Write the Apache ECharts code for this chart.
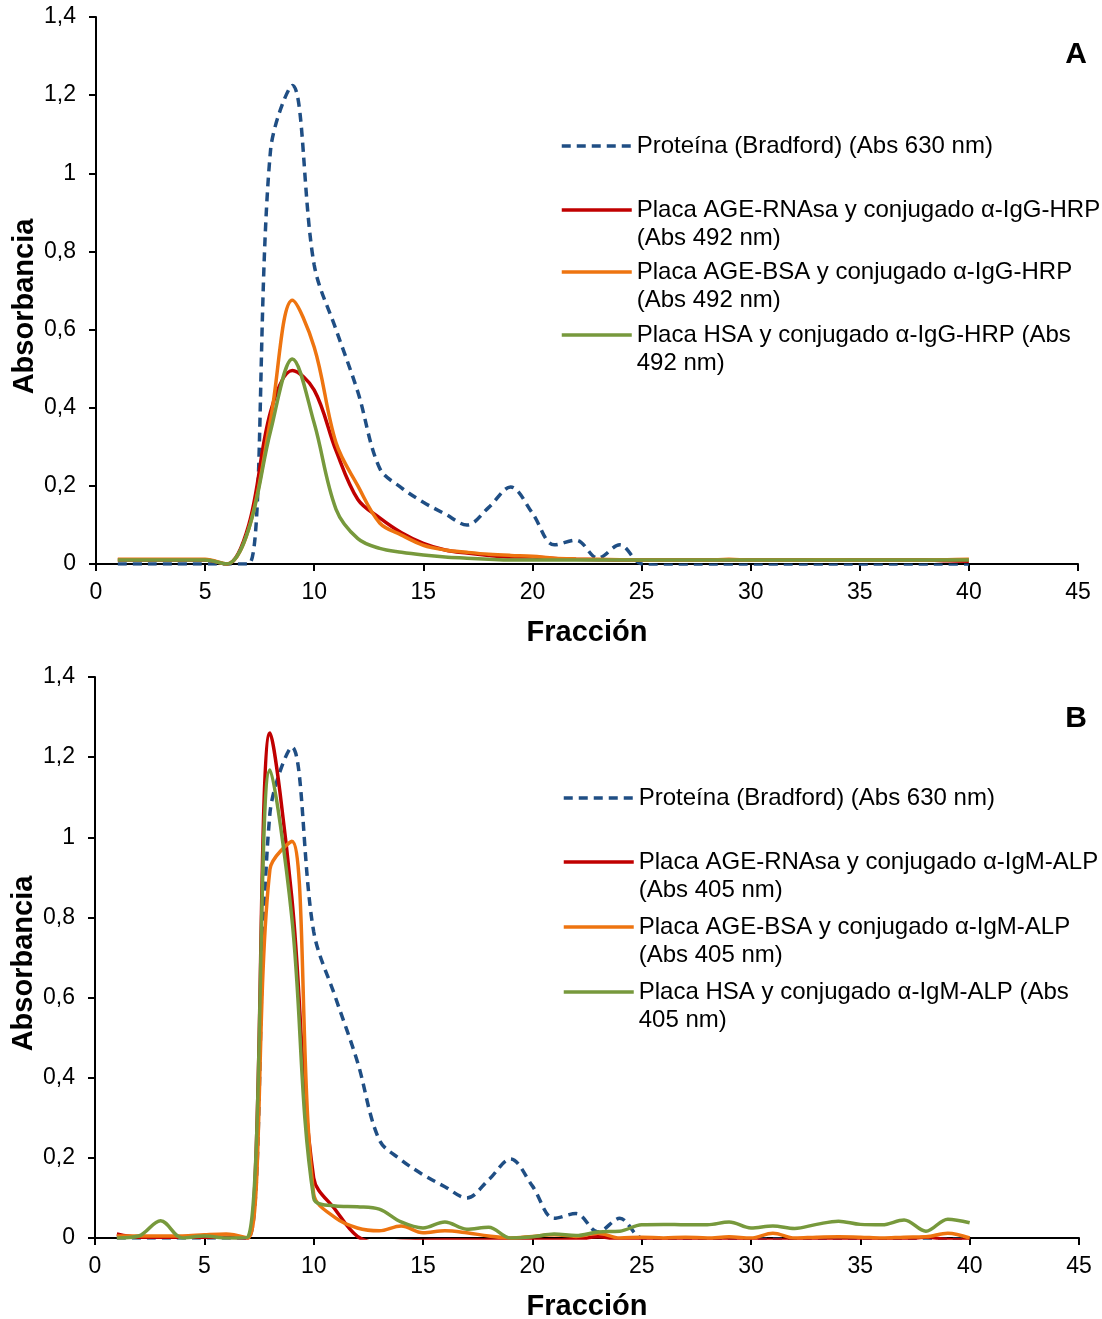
<!DOCTYPE html>
<html>
<head>
<meta charset="utf-8">
<script src="https://cdn.jsdelivr.net/npm/echarts@6/dist/echarts.min.js"></script>
<style>html,body{margin:0;padding:0;background:#fff}#c{width:1102px;height:1319px}</style>
</head>
<body>
<div id="c"></div>
<script>
const fractions = [1,2,3,4,5,6,7,8,9,10,11,12,13,14,15,16,17,18,19,20,21,22,23,24,25,26,27,28,29,30,31,32,33,34,35,36,37,38,39,40];
const xTicks = [0,5,10,15,20,25,30,35,40,45];
const yTicks = [0,0.2,0.4,0.6,0.8,1,1.2,1.4];

const proteinName = 'Proteína (Bradford) (Abs 630 nm)';
const namesA = ['Placa AGE-RNAsa y conjugado α-IgG-HRP (Abs 492 nm)', 'Placa AGE-BSA y conjugado α-IgG-HRP (Abs 492 nm)', 'Placa HSA y conjugado α-IgG-HRP (Abs 492 nm)'];
const namesB = ['Placa AGE-RNAsa y conjugado α-IgM-ALP (Abs 405 nm)', 'Placa AGE-BSA y conjugado α-IgM-ALP (Abs 405 nm)', 'Placa HSA y conjugado α-IgM-ALP (Abs 405 nm)'];
const legendLinesA = [['Placa AGE-RNAsa y conjugado α-IgG-HRP', '(Abs 492 nm)'], ['Placa AGE-BSA y conjugado α-IgG-HRP', '(Abs 492 nm)'], ['Placa HSA y conjugado α-IgG-HRP (Abs', '492 nm)']];
const legendLinesB = [['Placa AGE-RNAsa y conjugado α-IgM-ALP', '(Abs 405 nm)'], ['Placa AGE-BSA y conjugado α-IgM-ALP', '(Abs 405 nm)'], ['Placa HSA y conjugado α-IgM-ALP (Abs', '405 nm)']];

// Protein (Bradford), same in both panels
const protein = [0,0,0,0,0,0,0,1.06,1.225,0.765,0.6,0.44,0.245,0.195,0.158,0.128,0.1,0.145,0.197,0.13,0.049,0.061,0.015,0.049,0,-0.003,-0.003,-0.003,-0.003,-0.003,-0.003,-0.003,-0.003,-0.003,-0.003,-0.003,-0.003,-0.003,-0.003,-0.003];

// Panel A
const redA = [0.01,0.01,0.01,0.01,0.01,0,0.1,0.39,0.495,0.445,0.29,0.165,0.118,0.08,0.053,0.036,0.028,0.022,0.018,0.018,0.014,0.012,0.011,0.01,0.01,0.01,0.01,0.01,0.01,0.01,0.01,0.01,0.01,0.01,0.01,0.01,0.01,0.01,0.008,0.007];
const orangeA = [0.012,0.012,0.012,0.012,0.012,0,0.09,0.37,0.675,0.555,0.31,0.2,0.105,0.074,0.048,0.036,0.03,0.025,0.022,0.02,0.015,0.013,0.012,0.011,0.01,0.01,0.01,0.01,0.012,0.01,0.01,0.01,0.011,0.011,0.01,0.01,0.01,0.01,0.011,0.012];
const greenA = [0.01,0.01,0.01,0.01,0.01,0,0.09,0.34,0.525,0.36,0.14,0.065,0.04,0.03,0.023,0.018,0.015,0.012,0.01,0.01,0.01,0.01,0.01,0.01,0.01,0.01,0.01,0.01,0.01,0.01,0.01,0.01,0.01,0.01,0.01,0.01,0.01,0.01,0.01,0.01];

// Panel B
const redB = [0.01,0.002,0.002,0.002,0.002,0.002,0,1.26,0.85,0.15,0.07,0.004,-0.012,-0.008,-0.006,-0.005,-0.005,-0.005,-0.005,-0.005,-0.005,-0.004,0.003,-0.004,-0.005,-0.005,-0.005,-0.005,-0.005,-0.005,-0.005,-0.005,-0.005,-0.005,-0.005,-0.005,-0.004,0.002,-0.004,-0.005];
const orangeB = [0.005,0.005,0.005,0.005,0.008,0.01,0,0.92,0.99,0.11,0.05,0.025,0.018,0.03,0.013,0.018,0.013,0.005,0,0.004,0.008,0.004,0.012,0,0.002,0,0.002,0,0.003,0,0.012,0,0.002,0.003,0.002,0,0.002,0.003,0.012,0];
const greenB = [0,0.005,0.043,0,0.005,0,0.003,1.168,0.8,0.1,0.08,0.078,0.072,0.04,0.025,0.04,0.022,0.027,0,0.003,0.01,0.006,0.015,0.017,0.033,0.034,0.033,0.033,0.04,0.025,0.03,0.024,0.034,0.042,0.034,0.033,0.045,0.017,0.047,0.038];

const FONT = '"Liberation Sans", Arial, sans-serif';
const C_BLUE = '#1F4E84', C_RED = '#C00000', C_ORANGE = '#EE7410', C_GREEN = '#77993C';

function pairs(vals){ return fractions.map((f,i)=>[f, vals[i]]); }
function fmtNum(v){ return String(Math.round(v*10)/10).replace('.', ','); }

function xAxis(gi){
  return {
    type:'value', gridIndex: gi, min: xTicks[0], max: xTicks[xTicks.length-1], interval: 5,
    name: 'Fracción', nameLocation:'middle', nameGap: 54, nameMoveOverlap:false,
    nameTextStyle:{fontFamily:FONT, fontSize:29, fontWeight:'bold', color:'#000'},
    axisLine:{onZero:false, lineStyle:{color:'#000', width:2}},
    axisTick:{show:true, inside:false, length:7, lineStyle:{color:'#000', width:2}},
    axisLabel:{fontFamily:FONT, fontSize:23, color:'#000', margin:17},
    splitLine:{show:false}
  };
}
function yAxis(gi, shift){
  return {
    type:'value', gridIndex: gi, min: yTicks[0], max: yTicks[yTicks.length-1], interval: 0.2,
    name: 'Absorbancia', nameLocation:'middle', nameGap: 57, nameMoveOverlap:false,
    nameTextStyle:{fontFamily:FONT, fontSize:29, fontWeight:'bold', color:'#000', padding:[0, shift, 0, 0]},
    axisLine:{show:true, lineStyle:{color:'#000', width:2}},
    axisTick:{show:true, inside:false, length:7, lineStyle:{color:'#000', width:2}},
    axisLabel:{fontFamily:FONT, fontSize:23, color:'#000', margin:20, formatter: fmtNum},
    splitLine:{show:false}
  };
}
function line(name, vals, color, gi, dashed){
  return {
    name, type:'line', xAxisIndex: gi, yAxisIndex: gi, data: pairs(vals),
    smooth: 0.35, symbol:'none', showSymbol:false, clip:true,
    lineStyle:{color, width:3.5, type: dashed ? [9,6] : 'solid'},
    itemStyle:{color},
    z: dashed ? 1 : 2
  };
}
function legend(name, lines, left, iconY){
  const two = lines.length > 1;
  return {
    data:[name], left, top: two ? iconY - 42 : iconY - 14, padding:0, orient:'vertical',
    itemWidth:70, itemHeight:14, itemGap:0, selectedMode:false,
    itemStyle:{opacity:0},
    lineStyle:{width:3.5},
    formatter: () => two ? ('\u00a0\n' + lines.join('\n')) : lines[0],
    textStyle:{fontFamily:FONT, fontSize:24, color:'#000', lineHeight:28}
  };
}

const option = {
  animation:false,
  backgroundColor:'#fff',
  title:[
    {text:'A', right:10, top:35, textStyle:{fontFamily:FONT, fontSize:30, fontWeight:'bold', color:'#000'}},
    {text:'B', right:10, top:699, textStyle:{fontFamily:FONT, fontSize:30, fontWeight:'bold', color:'#000'}}
  ],
  grid:[
    {left:96, top:17, width:982, height:547, containLabel:false, outerBoundsMode:'none'},
    {left:95, top:677, width:984, height:561, containLabel:false, outerBoundsMode:'none'}
  ],
  xAxis:[xAxis(0), xAxis(1)],
  yAxis:[yAxis(0, 32), yAxis(1, 12)],
  legend:[
    legend(proteinName, [proteinName], 560, 146),
    legend(namesA[0], legendLinesA[0], 560, 210),
    legend(namesA[1], legendLinesA[1], 560, 272),
    legend(namesA[2], legendLinesA[2], 560, 335),
    legend(namesB[0], legendLinesB[0], 562, 862),
    legend(namesB[1], legendLinesB[1], 562, 927),
    legend(namesB[2], legendLinesB[2], 562, 992),
    legend(proteinName, [proteinName], 562, 798)
  ],
  series:[
    line(proteinName, protein, C_BLUE, 0, true),
    line(namesA[0], redA, C_RED, 0, false),
    line(namesA[1], orangeA, C_ORANGE, 0, false),
    line(namesA[2], greenA, C_GREEN, 0, false),
    line(proteinName, protein, C_BLUE, 1, true),
    line(namesB[0], redB, C_RED, 1, false),
    line(namesB[1], orangeB, C_ORANGE, 1, false),
    line(namesB[2], greenB, C_GREEN, 1, false)
  ]
};
const chart = echarts.init(document.getElementById('c'), null, {renderer:'canvas'});
chart.setOption(option);
</script>
</body>
</html>
